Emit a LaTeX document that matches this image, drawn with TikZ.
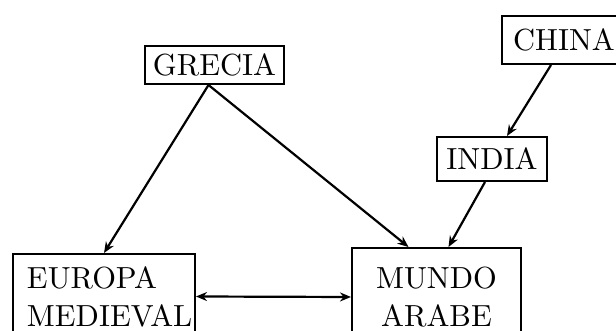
\documentclass[tikz,border=0pt]{standalone}
\usetikzlibrary{arrows.meta}
\font\bigrm="[lmroman10-regular.otf]" at 30.5pt
\begin{document}
\begin{tikzpicture}[x=1pt,y=1pt,
  box/.style={draw, line width=2pt, inner sep=0pt, font={\bigrm\baselineskip=38pt}},
  tip/.style={Stealth[length=11pt,width=9pt]},
  conn/.style={line width=2.2pt, -{Stealth[length=11pt,width=9pt]}},
  both/.style={line width=2.2pt, {Stealth[length=11pt,width=9pt]}-{Stealth[length=11pt,width=9pt]}}]
\useasboundingbox (0,0) rectangle (616,331);
\clip (0,0) rectangle (616,331);
\node[box, minimum width=139pt, minimum height=38pt] (grecia) at (214.5,266) {GRECIA};
\node[box, minimum width=124pt, minimum height=48pt] (china) at (564,291) {CHINA};
\node[box, minimum width=110pt, minimum height=44pt] (india) at (492,172) {INDIA};
\node[box, inner xsep=14pt, text width=154pt, align=left, minimum height=85pt] (europa) at (104,34.5) {EUROPA\\MEDIEVAL};
\node[box, minimum width=169pt, minimum height=98pt, align=center] (mundo) at (436.5,34) {MUNDO\\ARABE};
\draw[conn] ([xshift=-6pt]grecia.south) -- (europa.north);
\draw[conn] ([xshift=-6pt]grecia.south) -- ([xshift=-28pt]mundo.north);
\draw[conn] ([xshift=-13pt]china.south) -- ([xshift=15pt]india.north);
\draw[conn] ([xshift=-7pt]india.south) -- ([xshift=12pt]mundo.north);
\draw[both] (europa.east) -- (mundo.west);
\end{tikzpicture}
\end{document}
